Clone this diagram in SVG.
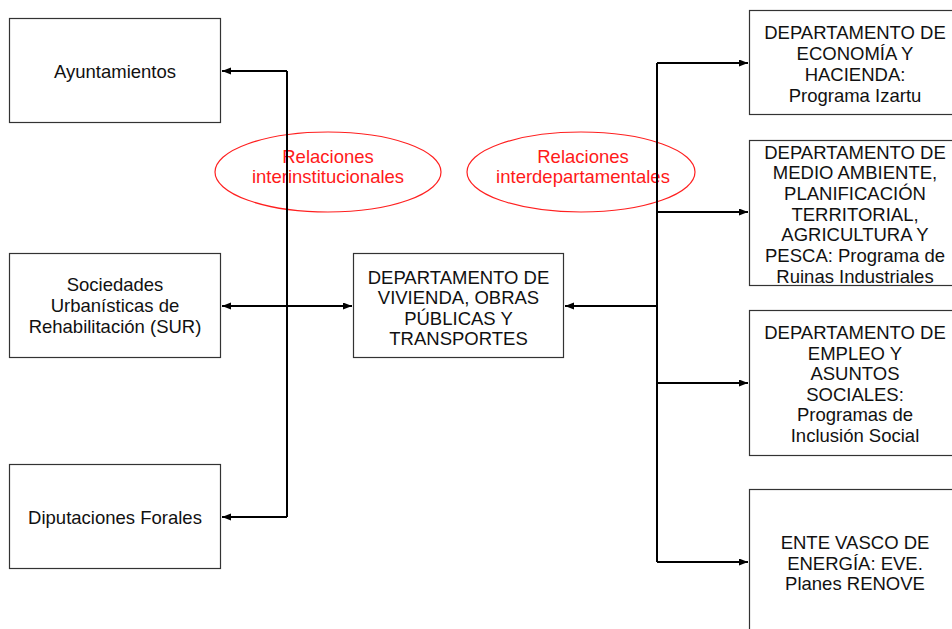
<svg xmlns="http://www.w3.org/2000/svg" width="952" height="629" viewBox="0 0 952 629">
<style>
.box{fill:#fff;stroke:#333;stroke-width:1.2}
.t{font-family:"Liberation Sans",Arial,sans-serif;font-size:18.5px;fill:#111;text-anchor:middle}
.r{font-family:"Liberation Sans",Arial,sans-serif;font-size:18.5px;fill:#ff1a1a;text-anchor:middle}
.ell{fill:none;stroke:#ff2020;stroke-width:1.2}
.c{fill:none;stroke:#000;stroke-width:2}
</style>
<defs>
<marker id="ah" markerUnits="userSpaceOnUse" markerWidth="10" markerHeight="8" refX="9" refY="3.5" orient="auto-start-reverse">
<path d="M0,0 L9,3.5 L0,7 z" fill="#000"/>
</marker>
</defs>
<rect width="952" height="629" fill="#fff"/>
<g id="ellipses">
<g id="rel-inter">
<ellipse class="ell" cx="328" cy="172" rx="113" ry="40"/>
<text class="r" x="328" y="162.5">Relaciones</text>
<text class="r" x="328" y="182.5">interinstitucionales</text>
</g>
<g id="rel-dep">
<ellipse class="ell" cx="581" cy="172" rx="114" ry="40"/>
<text class="r" x="583" y="162.5">Relaciones</text>
<text class="r" x="583" y="182.5">interdepartamentales</text>
</g>
</g>
<g id="connectors">
<path class="c" d="M287,71 L287,517"/>
<path class="c" d="M287,71 L222,71" marker-end="url(#ah)"/>
<path class="c" d="M287,517 L222,517" marker-end="url(#ah)"/>
<path class="c" d="M222,306 L352,306" marker-start="url(#ah)" marker-end="url(#ah)"/>
<path class="c" d="M657,63 L657,562"/>
<path class="c" d="M657,306 L565,306" marker-end="url(#ah)"/>
<path class="c" d="M657,63 L748,63" marker-end="url(#ah)"/>
<path class="c" d="M657,212 L748,212" marker-end="url(#ah)"/>
<path class="c" d="M657,383 L748,383" marker-end="url(#ah)"/>
<path class="c" d="M657,562 L748,562" marker-end="url(#ah)"/>
</g>
<g id="ayuntamientos">
<rect class="box" x="9.5" y="18.5" width="211" height="104"/>
<text class="t" x="115" y="77.5">Ayuntamientos</text>
</g>
<g id="sur">
<rect class="box" x="9.5" y="253.5" width="211" height="104"/>
<text class="t" x="115" y="291">Sociedades</text>
<text class="t" x="115" y="312">Urbanísticas de</text>
<text class="t" x="115" y="333">Rehabilitación (SUR)</text>
</g>
<g id="diputaciones">
<rect class="box" x="9.5" y="464.5" width="211" height="104"/>
<text class="t" x="115" y="523.5">Diputaciones Forales</text>
</g>
<g id="vivienda">
<rect class="box" x="353.5" y="253.5" width="210" height="104"/>
<text class="t" x="458.5" y="283.5">DEPARTAMENTO DE</text>
<text class="t" x="458.5" y="304">VIVIENDA, OBRAS</text>
<text class="t" x="458.5" y="324.5">PÚBLICAS Y</text>
<text class="t" x="458.5" y="345">TRANSPORTES</text>
</g>
<g id="economia">
<rect class="box" x="749.5" y="10.5" width="215" height="104"/>
<text class="t" x="855" y="38.5">DEPARTAMENTO DE</text>
<text class="t" x="855" y="59.5">ECONOMÍA Y</text>
<text class="t" x="855" y="80.5">HACIENDA:</text>
<text class="t" x="855" y="101.5">Programa Izartu</text>
</g>
<g id="medioambiente">
<rect class="box" x="749.5" y="140.5" width="215" height="145"/>
<text class="t" x="855" y="158.5">DEPARTAMENTO DE</text>
<text class="t" x="855" y="179.2">MEDIO AMBIENTE,</text>
<text class="t" x="855" y="199.9">PLANIFICACIÓN</text>
<text class="t" x="855" y="220.6">TERRITORIAL,</text>
<text class="t" x="855" y="241.3">AGRICULTURA Y</text>
<text class="t" x="855" y="262">PESCA: Programa de</text>
<text class="t" x="855" y="282.7">Ruinas Industriales</text>
</g>
<g id="empleo">
<rect class="box" x="749.5" y="310.5" width="215" height="145"/>
<text class="t" x="855" y="339">DEPARTAMENTO DE</text>
<text class="t" x="855" y="359.5">EMPLEO Y</text>
<text class="t" x="855" y="380">ASUNTOS</text>
<text class="t" x="855" y="400.5">SOCIALES:</text>
<text class="t" x="855" y="421">Programas de</text>
<text class="t" x="855" y="441.5">Inclusión Social</text>
</g>
<g id="eve">
<rect class="box" x="749.5" y="489.5" width="215" height="150"/>
<text class="t" x="855" y="549">ENTE VASCO DE</text>
<text class="t" x="855" y="570">ENERGÍA: EVE.</text>
<text class="t" x="855" y="590">Planes RENOVE</text>
</g>
</svg>
